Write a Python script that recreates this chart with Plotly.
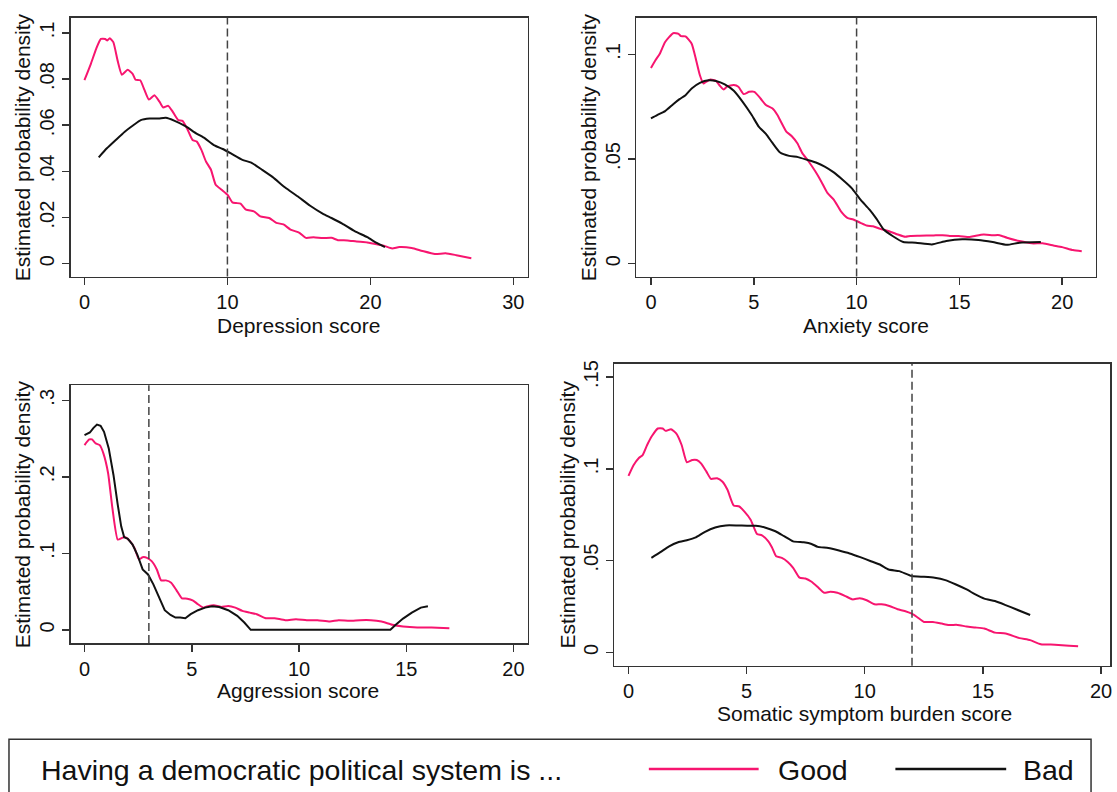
import plotly.graph_objects as go

W, H = 1117, 792

# ---------------- data ----------------
dep_good_x = [0, 0.45, 0.82, 1.15, 1.45, 1.6, 1.77, 2.02, 2.32, 2.62, 3.02, 3.37, 3.57, 3.9, 4.19, 4.51, 4.89, 5.26, 5.51, 5.86, 6.18, 6.56, 6.86, 7.18, 7.56, 7.86, 8.18, 8.5, 8.85, 9.18, 9.6, 10.0, 10.35, 10.6, 10.92, 11.3, 11.85, 12.3, 12.92, 13.42, 13.92, 14.41, 15.04, 15.49, 16.03, 16.66, 17.28, 17.73, 18.4, 19.03, 19.78, 20.52, 21.02, 21.52, 22.02, 22.89, 23.64, 24.51, 25.26, 26.01, 27.06]
dep_good_y = [0.0795, 0.0866, 0.0931, 0.0974, 0.0974, 0.0967, 0.0977, 0.096, 0.088, 0.0819, 0.084, 0.0823, 0.0797, 0.0795, 0.0754, 0.0711, 0.073, 0.0701, 0.0677, 0.0684, 0.0658, 0.0622, 0.0619, 0.0586, 0.0536, 0.0529, 0.0493, 0.0443, 0.0407, 0.0342, 0.032, 0.0299, 0.0266, 0.0263, 0.026, 0.0234, 0.0227, 0.0205, 0.0198, 0.0177, 0.017, 0.0148, 0.0134, 0.0112, 0.0115, 0.0111, 0.0112, 0.0102, 0.0101, 0.0096, 0.0092, 0.0083, 0.0076, 0.0066, 0.0072, 0.0068, 0.0055, 0.0042, 0.0045, 0.0037, 0.0024]
dep_bad_x = [1.0, 1.57, 2.19, 2.82, 3.44, 3.94, 4.56, 5.19, 5.69, 6.31, 7.06, 7.81, 8.43, 9.05, 9.68, 10.3, 11.05, 11.67, 12.42, 13.17, 14.04, 14.91, 15.79, 16.66, 17.28, 18.03, 18.9, 19.78, 20.4, 21.02]
dep_bad_y = [0.0461, 0.05, 0.0536, 0.0572, 0.0601, 0.0622, 0.0629, 0.0629, 0.0632, 0.0619, 0.0596, 0.0565, 0.0543, 0.0514, 0.0497, 0.0476, 0.045, 0.0438, 0.0407, 0.0375, 0.033, 0.0292, 0.0251, 0.0217, 0.0198, 0.0174, 0.0141, 0.0115, 0.0091, 0.0072]

anx_good_x = [0, 0.21, 0.43, 0.69, 1.08, 1.34, 1.46, 1.68, 1.98, 2.2, 2.38, 2.55, 2.67, 2.9, 3.16, 3.37, 3.54, 3.72, 4.03, 4.25, 4.51, 4.77, 5.03, 5.33, 5.59, 5.9, 6.15, 6.32, 6.58, 6.84, 7.12, 7.36, 7.67, 7.99, 8.28, 8.58, 8.89, 9.24, 9.55, 9.84, 10.19, 10.49, 10.8, 11.15, 11.58, 12.01, 12.36, 12.62, 13.06, 13.75, 14.18, 14.53, 14.97, 15.49, 15.75, 16.18, 16.62, 16.96, 17.31, 17.92, 18.52, 19.05, 19.57, 20.0, 20.52, 20.95]
anx_good_y = [0.0935, 0.0971, 0.1003, 0.1059, 0.1101, 0.1098, 0.1087, 0.1086, 0.1051, 0.0971, 0.09, 0.0861, 0.0868, 0.088, 0.0873, 0.0848, 0.0832, 0.0848, 0.0853, 0.0845, 0.081, 0.0821, 0.0821, 0.0789, 0.0758, 0.0742, 0.071, 0.0678, 0.0631, 0.061, 0.0575, 0.0528, 0.0488, 0.0441, 0.0393, 0.0338, 0.0306, 0.025, 0.0219, 0.0211, 0.0195, 0.0182, 0.0179, 0.0166, 0.0155, 0.0139, 0.0128, 0.0132, 0.0133, 0.0135, 0.0136, 0.0132, 0.0132, 0.0127, 0.0132, 0.0139, 0.0136, 0.0136, 0.0124, 0.0108, 0.0097, 0.0097, 0.0087, 0.0079, 0.0065, 0.0059]
anx_bad_x = [0, 0.3, 0.69, 1.08, 1.39, 1.68, 1.98, 2.38, 2.81, 3.16, 3.59, 4.03, 4.46, 4.9, 5.24, 5.59, 5.9, 6.28, 6.72, 7.15, 7.59, 8.02, 8.45, 8.89, 9.32, 9.76, 10.19, 10.63, 10.97, 11.32, 11.75, 12.27, 12.88, 13.66, 14.36, 15.14, 15.92, 16.62, 17.31, 17.92, 18.96]
anx_bad_y = [0.0694, 0.071, 0.0729, 0.0762, 0.0786, 0.0805, 0.0837, 0.0864, 0.0876, 0.0873, 0.0857, 0.0826, 0.0773, 0.071, 0.0655, 0.062, 0.0578, 0.0531, 0.0515, 0.0509, 0.0496, 0.0483, 0.0464, 0.0436, 0.0401, 0.0361, 0.0306, 0.0258, 0.0214, 0.0163, 0.0132, 0.0103, 0.01, 0.0092, 0.0108, 0.0116, 0.0113, 0.0103, 0.009, 0.01, 0.0103]

agg_good_x = [0, 0.22, 0.35, 0.52, 0.71, 0.88, 1.1, 1.3, 1.55, 1.75, 1.88, 2.13, 2.34, 2.54, 2.71, 2.91, 3.13, 3.37, 3.57, 3.79, 4.04, 4.29, 4.54, 4.79, 5.04, 5.29, 5.54, 5.79, 6.03, 6.37, 6.7, 7.03, 7.36, 7.7, 8.03, 8.45, 8.86, 9.36, 9.86, 10.36, 10.86, 11.44, 11.85, 12.35, 12.85, 13.35, 13.85, 14.35, 14.85, 15.51, 16.18, 17.01]
agg_good_y = [0.2414, 0.2488, 0.2488, 0.2436, 0.2414, 0.2306, 0.2046, 0.1591, 0.1179, 0.1201, 0.1214, 0.1157, 0.1062, 0.0919, 0.0949, 0.0941, 0.0897, 0.0789, 0.0646, 0.0646, 0.0616, 0.0516, 0.0412, 0.0407, 0.0386, 0.0334, 0.029, 0.0312, 0.0321, 0.0299, 0.0312, 0.029, 0.0247, 0.0225, 0.0204, 0.0152, 0.0152, 0.0126, 0.0139, 0.0126, 0.0126, 0.0108, 0.0126, 0.0117, 0.0126, 0.0126, 0.0108, 0.0065, 0.0043, 0.003, 0.003, 0.0022]
agg_bad_x = [0, 0.25, 0.42, 0.58, 0.75, 0.91, 1.13, 1.35, 1.55, 1.71, 1.85, 2.01, 2.24, 2.46, 2.71, 2.96, 3.21, 3.49, 3.74, 4.01, 4.24, 4.46, 4.7, 4.95, 5.29, 5.62, 5.95, 6.28, 6.7, 7.12, 7.45, 7.75, 9.36, 12.69, 14.26, 14.51, 14.85, 15.26, 15.68, 16.01]
agg_bad_y = [0.2544, 0.2579, 0.264, 0.2683, 0.2666, 0.2588, 0.2371, 0.2024, 0.1634, 0.1352, 0.1209, 0.1192, 0.1114, 0.0984, 0.0789, 0.0724, 0.0594, 0.042, 0.0256, 0.0195, 0.016, 0.016, 0.0152, 0.0204, 0.0256, 0.029, 0.0308, 0.0299, 0.0256, 0.0182, 0.0095, 0.0, 0.0, 0.0, 0.0, 0.0065, 0.0147, 0.0225, 0.029, 0.0308]

som_good_x = [0, 0.22, 0.45, 0.6, 0.79, 1.0, 1.24, 1.45, 1.57, 1.8, 2.02, 2.25, 2.47, 2.7, 2.89, 3.07, 3.3, 3.49, 3.75, 3.97, 4.19, 4.45, 4.69, 4.9, 5.17, 5.44, 5.65, 5.92, 6.07, 6.25, 6.49, 6.74, 6.97, 7.24, 7.49, 7.75, 8.01, 8.28, 8.54, 8.84, 9.18, 9.48, 9.78, 10.08, 10.41, 10.71, 11.04, 11.39, 11.69, 11.99, 12.21, 12.51, 12.88, 13.26, 13.56, 13.93, 14.31, 14.68, 15.06, 15.51, 15.96, 16.55, 17.0, 17.45, 18.05, 18.65, 19.03]
som_good_y = [0.0962, 0.1021, 0.1061, 0.1075, 0.113, 0.118, 0.122, 0.122, 0.1207, 0.1216, 0.1193, 0.113, 0.1036, 0.1048, 0.1048, 0.103, 0.0985, 0.0945, 0.0949, 0.0931, 0.0886, 0.0801, 0.0795, 0.0768, 0.0723, 0.0645, 0.0638, 0.0605, 0.0573, 0.0524, 0.0515, 0.0493, 0.0461, 0.0407, 0.0403, 0.0385, 0.0356, 0.0325, 0.0331, 0.0325, 0.0307, 0.0289, 0.0295, 0.0284, 0.0262, 0.0262, 0.0253, 0.0235, 0.0226, 0.0211, 0.0193, 0.0166, 0.0166, 0.0157, 0.015, 0.015, 0.0141, 0.0136, 0.013, 0.0108, 0.0103, 0.0078, 0.0067, 0.0045, 0.0042, 0.0036, 0.0033]
som_bad_x = [0.97, 1.35, 1.72, 2.1, 2.47, 2.85, 3.22, 3.67, 4.12, 4.57, 5.02, 5.39, 5.77, 6.22, 6.59, 6.97, 7.42, 7.75, 8.01, 8.46, 8.91, 9.36, 9.81, 10.26, 10.64, 11.01, 11.46, 11.99, 12.51, 12.96, 13.41, 13.86, 14.31, 14.68, 15.06, 15.51, 15.96, 16.4, 17.0]
som_bad_y = [0.0515, 0.0546, 0.0578, 0.06, 0.0611, 0.0627, 0.0656, 0.0681, 0.0692, 0.0692, 0.069, 0.069, 0.0681, 0.066, 0.0633, 0.0605, 0.06, 0.0591, 0.0575, 0.0569, 0.0555, 0.0539, 0.0519, 0.0497, 0.0479, 0.0452, 0.0443, 0.0416, 0.0412, 0.0407, 0.0394, 0.037, 0.0343, 0.0316, 0.0293, 0.028, 0.0258, 0.0235, 0.0204]

panel_titles = ["Depression score", "Anxiety score", "Aggression score", "Somatic symptom burden score"]
cutoffs = [10, 10, 3, 12]
y_title = "Estimated probability density"
x_ticks = [[0, 10, 20, 30], [0, 5, 10, 15, 20], [0, 5, 10, 15, 20], [0, 5, 10, 15, 20]]
y_tickvals = [[0, 0.02, 0.04, 0.06, 0.08, 0.1], [0, 0.05, 0.1], [0, 0.1, 0.2, 0.3], [0, 0.05, 0.1, 0.15]]
y_ticktext = [["0", ".02", ".04", ".06", ".08", ".1"], ["0", ".05", ".1"], ["0", ".1", ".2", ".3"], ["0", ".05", ".1", ".15"]]
legend_title = "Having a democratic political system is ..."
legend_labels = ["Good", "Bad"]

GOOD = "#F7156F"
BAD = "#111111"
FRAME = "#333333"
FONT = "Liberation Sans, Arial, Helvetica, sans-serif"

# ---------------- layout geometry (pixels) ----------------
boxes = [  # left, right, top, bottom
    (70.7, 528.6, 14, 274),
    (637.5, 1097.5, 14, 274),
    (70.7, 528.6, 383.3, 642.3),
    (615.4, 1112, 361.7, 665),
]
x_ranges = [[-0.97, 31.0], [-0.71, 21.62], [-0.65, 20.66], [-0.6, 20.38]]
y_ranges = [[-0.0056, 0.1065], [-0.0062, 0.1174], [-0.0173, 0.3195], [-0.0072, 0.1572]]
xtitle_pos = [(299, 323), (868, 323), (299, 690), (866, 713)]
ytitle_pos = [(22, 144), (589, 144), (22, 513), (568, 513)]

series = [
    (dep_good_x, dep_good_y, dep_bad_x, dep_bad_y),
    (anx_good_x, anx_good_y, anx_bad_x, anx_bad_y),
    (agg_good_x, agg_good_y, agg_bad_x, agg_bad_y),
    (som_good_x, som_good_y, som_bad_x, som_bad_y),
]

fig = go.Figure()
shapes = []
annotations = []

for i in range(4):
    sfx = "" if i == 0 else str(i + 1)
    gx, gy, bx, by = series[i]
    bad_shape = dict(shape="linear") if i == 2 else dict(shape="spline", smoothing=0.5)
    fig.add_trace(go.Scatter(x=gx, y=gy, mode="lines", line=dict(color=GOOD, width=2, shape="spline", smoothing=0.5),
                             xaxis="x" + sfx, yaxis="y" + sfx, showlegend=False, name="Good"))
    fig.add_trace(go.Scatter(x=bx, y=by, mode="lines", line=dict(color=BAD, width=2, **bad_shape),
                             xaxis="x" + sfx, yaxis="y" + sfx, showlegend=False, name="Bad"))
    l, r, t, b = boxes[i]
    common = dict(showline=True, linecolor=FRAME, linewidth=1.5, mirror=True, ticks="outside",
                  ticklen=7, tickwidth=1.5, tickcolor=FRAME, showgrid=False, zeroline=False,
                  tickfont=dict(family=FONT, size=20, color="#111"))
    fig.layout["xaxis" + sfx] = dict(domain=[l / W, r / W], range=x_ranges[i], tickvals=x_ticks[i],
                                     anchor="y" + sfx, **common)
    fig.layout["yaxis" + sfx] = dict(domain=[1 - b / H, 1 - t / H], range=y_ranges[i], tickvals=y_tickvals[i],
                                     ticktext=y_ticktext[i], tickangle=-90, anchor="x" + sfx, **common)
    shapes.append(dict(type="line", xref="x" + sfx, yref="y" + sfx + " domain", x0=cutoffs[i], x1=cutoffs[i],
                       y0=0, y1=1, line=dict(color="#444", width=1.5, dash="8px,4px")))
    xt, yt = xtitle_pos[i]
    annotations.append(dict(text=panel_titles[i], x=xt / W, y=1 - yt / H, xref="paper", yref="paper",
                            showarrow=False, xanchor="center", yanchor="middle",
                            font=dict(family=FONT, size=21, color="#111")))
    xt, yt = ytitle_pos[i]
    annotations.append(dict(text=y_title, x=xt / W, y=1 - yt / H, xref="paper", yref="paper",
                            showarrow=False, xanchor="center", yanchor="middle", textangle=-90,
                            font=dict(family=FONT, size=21, color="#111")))

# legend box
shapes.append(dict(type="rect", xref="paper", yref="paper", x0=9 / W, x1=1093 / W, y0=-0.05, y1=1 - 739 / H,
                   line=dict(color=FRAME, width=1.5), fillcolor="rgba(0,0,0,0)"))
shapes.append(dict(type="line", xref="paper", yref="paper", x0=650 / W, x1=760 / W, y0=1 - 769 / H, y1=1 - 769 / H,
                   line=dict(color=GOOD, width=2.5)))
shapes.append(dict(type="line", xref="paper", yref="paper", x0=897 / W, x1=1008 / W, y0=1 - 769 / H, y1=1 - 769 / H,
                   line=dict(color=BAD, width=2.5)))
annotations.append(dict(text=legend_title, x=39 / W, y=1 - 770 / H, xref="paper", yref="paper", showarrow=False,
                        xanchor="left", yanchor="middle", font=dict(family=FONT, size=28.5, color="#111")))
annotations.append(dict(text=legend_labels[0], x=777 / W, y=1 - 770 / H, xref="paper", yref="paper", showarrow=False,
                        xanchor="left", yanchor="middle", font=dict(family=FONT, size=28.5, color="#111")))
annotations.append(dict(text=legend_labels[1], x=1023 / W, y=1 - 770 / H, xref="paper", yref="paper", showarrow=False,
                        xanchor="left", yanchor="middle", font=dict(family=FONT, size=28.5, color="#111")))

fig.update_layout(width=W, height=H, margin=dict(l=0, r=0, t=0, b=0), paper_bgcolor="white",
                  plot_bgcolor="white", shapes=shapes, annotations=annotations, showlegend=False,
                  font=dict(family=FONT), hovermode=False)

fig.write_html("out.html", config={"displayModeBar": False, "staticPlot": True},
               post_script="document.body.style.margin='0px';document.body.style.overflow='hidden';")
